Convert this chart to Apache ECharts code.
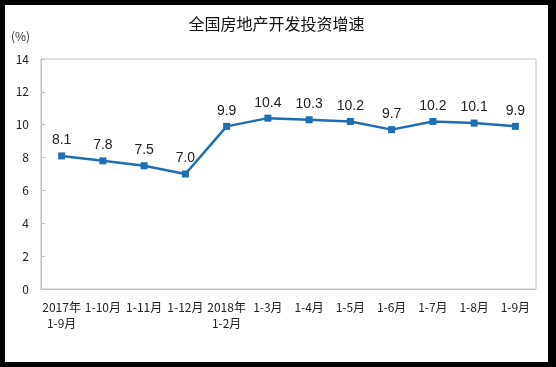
<!DOCTYPE html>
<html>
<head>
<meta charset="utf-8">
<script src="https://cdn.jsdelivr.net/npm/echarts@6/dist/echarts.min.js"></script>
<style>
html,body{margin:0;padding:0;background:#000;width:556px;height:367px;overflow:hidden;}
#frame{position:absolute;left:5px;top:5px;width:543px;height:357px;background:#fff;border-radius:2px;}
#chart{width:543px;height:357px;}
</style>
</head>
<body>
<div id="frame"><div id="chart"></div></div>
<script>
var titleText = '全国房地产开发投资增速';
var unitText = '(%)';
var categories = ['2017年\n1-9月','1-10月','1-11月','1-12月','2018年\n1-2月','1-3月','1-4月','1-5月','1-6月','1-7月','1-8月','1-9月'];
var growth = [8.1, 7.8, 7.5, 7.0, 9.9, 10.4, 10.3, 10.2, 9.7, 10.2, 10.1, 9.9];
var yTicks = {min: 0, max: 14, interval: 2};

var chart = echarts.init(document.getElementById('chart'));
var font = '"Noto Sans CJK SC", "Liberation Sans", sans-serif';
chart.setOption({
  animation: false,
  backgroundColor: '#fff',
  title: {
    text: titleText,
    left: 'center',
    top: 6,
    textStyle: {fontSize: 16, fontWeight: 'normal', color: '#111', fontFamily: font}
  },
  graphic: [{
    type: 'text', left: 6, top: 25,
    style: {text: unitText, fontSize: 12, fill: '#333', fontFamily: font}
  }],
  grid: {
    left: 36, top: 54, right: 12, bottom: 73,
    show: true, borderColor: '#c0c0c0', borderWidth: 1, backgroundColor: 'transparent'
  },
  xAxis: {
    type: 'category',
    data: categories,
    boundaryGap: true,
    axisLine: {lineStyle: {color: '#c0c0c0'}},
    axisTick: {inside: true, length: 4, lineStyle: {color: '#c0c0c0'}},
    axisLabel: {color: '#222', fontSize: 12, margin: 10, lineHeight: 16, fontFamily: font, interval: 0}
  },
  yAxis: {
    type: 'value',
    min: yTicks.min, max: yTicks.max, interval: yTicks.interval,
    axisLine: {show: true, lineStyle: {color: '#c0c0c0'}},
    axisTick: {show: true, inside: true, length: 4, lineStyle: {color: '#c0c0c0'}},
    splitLine: {show: false},
    axisLabel: {color: '#222', fontSize: 12, margin: 12, fontFamily: font}
  },
  series: [{
    type: 'line',
    data: growth,
    symbol: 'rect',
    symbolSize: 7,
    lineStyle: {color: '#1f6db3', width: 2.5},
    itemStyle: {color: '#1f6db3'},
    label: {
      show: true, position: 'top', distance: 5,
      fontSize: 14, color: '#222', fontFamily: '"Liberation Sans", Arial, sans-serif',
      formatter: function(p){ return p.value.toFixed(1); }
    }
  }]
});
</script>
</body>
</html>
